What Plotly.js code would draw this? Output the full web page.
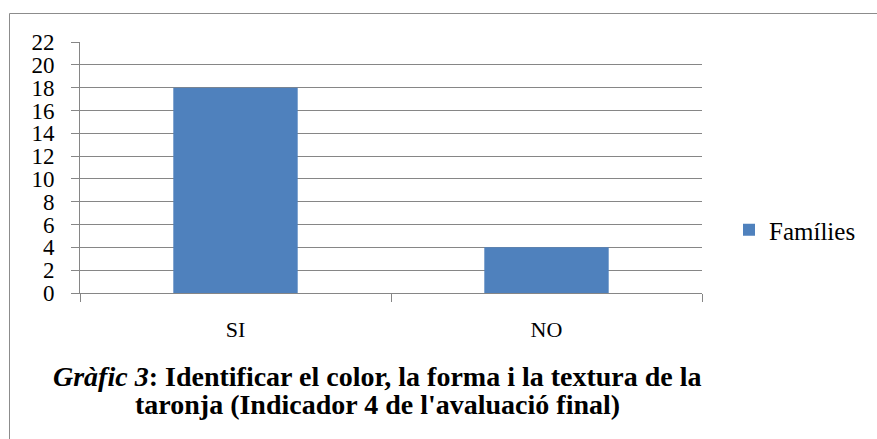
<!DOCTYPE html>
<html>
<head>
<meta charset="utf-8">
<script src="https://cdn.plot.ly/plotly-3.0.1.min.js"></script>
<style>html,body{margin:0;padding:0;background:#fff;}#chart{width:877px;height:439px;}</style>
</head>
<body>
<div id="chart"></div>
<script>
const categories = ["SI", "NO"];
const families = [18, 4];
const seriesName = "Famílies";
const yTicks = [0, 2, 4, 6, 8, 10, 12, 14, 16, 18, 20, 22];
const captionItalic = "Gràfic 3";
const captionRest = ": Identificar el color, la forma i la textura de la";
const captionLine2 = "taronja (Indicador 4 de l'avaluació final)";

const L = 80, R = 175, T = 42, B = 146, W = 877, H = 439;
const pw = W - L - R, ph = H - T - B;
const px = v => (v - L) / pw;
const py = v => (H - B - v) / ph;
const SERIF = "Liberation Serif, Times New Roman, serif";

const trace = {
  type: "bar",
  x: categories,
  y: families,
  name: seriesName,
  marker: {color: "#4F81BD"},
  width: 0.4,
  showlegend: true
};

const layout = {
  width: W, height: H,
  margin: {l: L, r: R, t: T, b: B, pad: 0, autoexpand: false},
  paper_bgcolor: "#ffffff",
  plot_bgcolor: "#ffffff",
  font: {family: SERIF, color: "#000000", size: 20},
  showlegend: true,
  legend: {
    x: px(729), y: py(230), xanchor: "left", yanchor: "middle",
    font: {family: SERIF, size: 25, color: "#000"},
    itemwidth: 30, bgcolor: "rgba(0,0,0,0)"
  },
  xaxis: {
    type: "category",
    range: [-0.5, 1.5],
    showline: true, linecolor: "#868686", linewidth: 1,
    ticks: "outside", tickson: "boundaries", ticklen: 8, tickcolor: "#868686", tickwidth: 1,
    showgrid: false, zeroline: false,
    tickfont: {family: SERIF, size: 22, color: "#000"},
    ticklabelstandoff: 17,
    fixedrange: true
  },
  yaxis: {
    range: [0, 22],
    tickvals: yTicks,
    ticktext: yTicks.map(String),
    showline: true, linecolor: "#868686", linewidth: 1,
    ticks: "outside", ticklen: 8, tickcolor: "#868686", tickwidth: 1,
    showgrid: true, gridcolor: "#868686", gridwidth: 1,
    zeroline: false,
    tickfont: {family: SERIF, size: 23, color: "#000"},
    ticklabelstandoff: 12,
    fixedrange: true
  },
  annotations: [
    {
      xref: "paper", yref: "paper",
      x: px(377), y: py(376), xanchor: "center", yanchor: "middle",
      text: "<b><i>" + captionItalic + "</i>" + captionRest + "</b>",
      showarrow: false,
      font: {family: SERIF, size: 28, color: "#000"}
    },
    {
      xref: "paper", yref: "paper",
      x: px(377), y: py(404), xanchor: "center", yanchor: "middle",
      text: "<b>" + captionLine2 + "</b>",
      showarrow: false,
      font: {family: SERIF, size: 28, color: "#000"}
    }
  ],
  shapes: [
    {type: "line", xref: "paper", yref: "paper", x0: px(9.5), x1: px(877), y0: py(13.5), y1: py(13.5), line: {color: "#8c8c8c", width: 1}},
    {type: "line", xref: "paper", yref: "paper", x0: px(9.5), x1: px(9.5), y0: py(13.5), y1: py(439), line: {color: "#8c8c8c", width: 1}}
  ]
};

Plotly.newPlot("chart", [trace], layout, {displayModeBar: false, staticPlot: true});
</script>
</body>
</html>
